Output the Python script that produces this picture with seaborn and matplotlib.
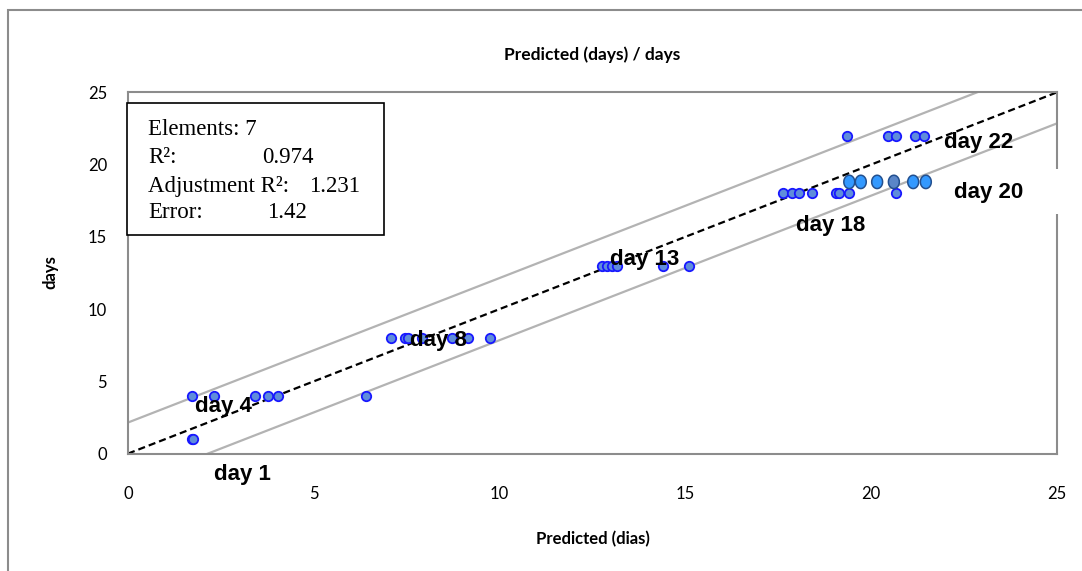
import numpy as np
import pandas as pd
import matplotlib
matplotlib.use("Agg")
import matplotlib.pyplot as plt
from matplotlib.patches import Rectangle
from matplotlib.path import Path
import seaborn as sns

# Predicted days for each observed-day group
day1_pred = [1.72, 1.75]
day4_pred = [1.73, 2.31, 3.42, 3.76, 4.03, 6.40]
day8_pred = [7.08, 7.45, 7.54, 7.90, 8.71, 9.16, 9.74]
day13_pred = [12.75, 12.88, 13.02, 13.15, 14.39, 15.10]
day18_pred = [17.62, 17.88, 18.07, 18.40, 19.05, 19.14, 19.41, 20.68]
day22_pred = [19.34, 20.44, 20.68, 21.18, 21.43]
observed_days = [1, 4, 8, 13, 18, 22]

# Highlighted day-20 group (plotted at its observed position)
day20_pred = [19.41, 19.72, 20.16, 20.61, 21.13, 21.47]
day20_obs = 18.8
day20_shade = ["a", "a", "a", "b", "a", "a"]

# Fit statistics
n_elements = 7
r2 = 0.974
adj_r2 = 1.231
error = 1.42
band = 2.15  # half-width of the tolerance band around y = x

axis_ticks = [0, 5, 10, 15, 20, 25]
group_labels = ["day 1", "day 4", "day 8", "day 13", "day 18", "day 20", "day 22"]
label_pos = [(3.07, -1.47), (2.56, 3.26), (8.35, 7.82), (13.9, 13.44),
             (18.91, 15.78), (23.17, 18.07), (22.89, 21.51)]

groups = [day1_pred, day4_pred, day8_pred, day13_pred, day18_pred, day22_pred]
df = pd.DataFrame({
    "pred": [p for g in groups for p in g],
    "obs": [d for g, d in zip(groups, observed_days) for _ in g],
})
df20 = pd.DataFrame({"pred": day20_pred, "obs": [day20_obs] * len(day20_pred),
                     "shade": day20_shade})

sns.set_theme(style="white")
plt.rcParams["font.family"] = ["Lato", "DejaVu Sans"]
plt.rcParams["text.color"] = "black"
plt.rcParams["axes.labelcolor"] = "black"

W, H = 1082, 571
fig = plt.figure(figsize=(W / 100, H / 100), dpi=100)
fig.patch.set_facecolor("white")

# outer chart frame
fig.patches.append(Rectangle((7.5 / W, -0.1), 1.2, 1 - 10 / H + 0.1,
                             transform=fig.transFigure, fill=False,
                             edgecolor="#8c8c8c", linewidth=1.5))

ax = fig.add_axes([128 / W, 1 - 453.6 / H, 929 / W, 361.3 / H])
ax.set_facecolor("white")

xs = np.array([0, 25])
ax.plot(xs, xs + band, color="#b3b3b3", lw=1.6, zorder=1)
ax.plot(xs, xs - band, color="#b3b3b3", lw=1.6, zorder=1)
ax.plot(xs, xs, color="black", lw=1.6, ls=(0, (3.2, 1.8)), zorder=2)

sns.scatterplot(data=df, x="pred", y="obs", ax=ax, s=46, color="#5f8ddb",
                edgecolor="#1818ff", linewidth=1.3, zorder=3, legend=False)

theta = np.linspace(0, 2 * np.pi, 60)
ellipse = Path(np.column_stack([0.82 * np.cos(theta), np.sin(theta)]), closed=True)
sns.scatterplot(data=df20, x="pred", y="obs", hue="shade",
                palette={"a": "#3399ff", "b": "#5a86c8"}, marker=ellipse,
                s=92, edgecolor="#23508f", linewidth=1.1, ax=ax, zorder=3,
                legend=False)

ax.set_xlim(0, 25)
ax.set_ylim(0, 25)
ax.set_xticks(axis_ticks)
ax.set_yticks(axis_ticks)
for sp in ax.spines.values():
    sp.set_color("#8c8c8c")
    sp.set_linewidth(1.5)
ax.tick_params(axis="x", direction="out", length=4, width=1.3, color="#8c8c8c",
               pad=19, labelsize=12, labelcolor="black")
ax.tick_params(axis="y", direction="inout", length=8, width=1.3, color="#8c8c8c",
               pad=11, labelsize=12, labelcolor="black")
ax.set_xlabel("Predicted (dias)", fontsize=12, fontweight="bold")
ax.set_ylabel("days", fontsize=12, fontweight="bold")
ax.xaxis.set_label_coords(0.5, -(531 - 453.6) / 361.3)
ax.yaxis.set_label_coords((58 - 128) / 929, (453.6 - 272) / 361.3)

fig.text(592.5 / W, 1 - 55 / H, "Predicted (days) / days", ha="center",
         va="center", fontsize=12.5, fontweight="bold")

# white box behind the day-20 label
ax.add_patch(Rectangle((21.9, 16.56), 5.0, 3.16, facecolor="white",
                       edgecolor="none", clip_on=False, zorder=4))

for txt, (lx, ly) in zip(group_labels, label_pos):
    ax.text(lx, ly, txt, ha="center", va="center", fontsize=16,
            fontweight="bold", family=["Liberation Sans", "DejaVu Sans"],
            color="black", zorder=5, clip_on=False)

# statistics box
ax.add_patch(Rectangle(((127.3 - 128) / 929, (453.6 - 235) / 361.3),
                       (384 - 127.3) / 929, (235 - 102.7) / 361.3,
                       transform=ax.transAxes, facecolor="white",
                       edgecolor="black", linewidth=1.2, clip_on=False, zorder=6))
serif = ["Liberation Serif", "DejaVu Serif"]
rows = [(f"Elements: {n_elements}", "", 0),
        ("R²:", f"{r2:.3f}", 261.7),
        ("Adjustment R²:", f"{adj_r2:.3f}", 309),
        ("Error:", f"{error:.2f}", 266.7)]
baselines = [135, 163.3, 191.7, 218.3]
for (lab, val, vx), by in zip(rows, baselines):
    fig.text(148.3 / W, 1 - by / H, lab, ha="left", va="baseline",
             fontsize=16.5, family=serif, zorder=7)
    if val:
        fig.text(vx / W, 1 - by / H, val, ha="left", va="baseline",
                 fontsize=16.5, family=serif, zorder=7)

fig.savefig("out.png", dpi=100)
